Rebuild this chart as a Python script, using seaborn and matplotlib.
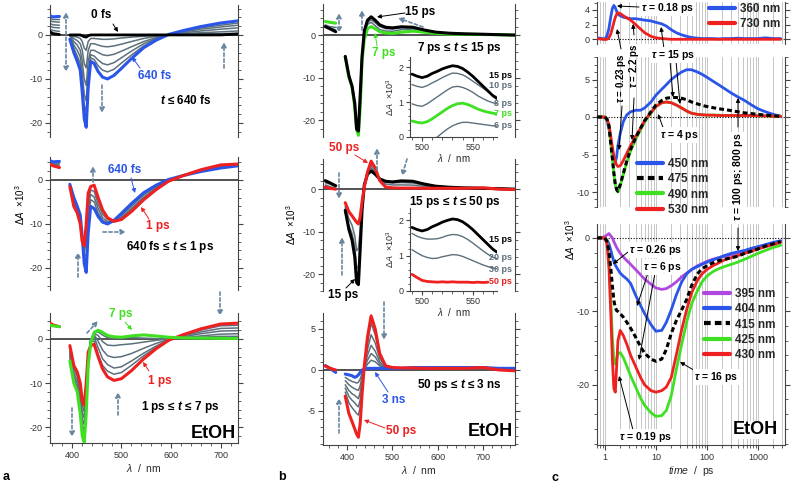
import numpy as np
import pandas as pd
import seaborn as sns
import matplotlib
matplotlib.use("Agg")
import matplotlib.pyplot as plt
from matplotlib.ticker import MultipleLocator, LogLocator, NullFormatter
from matplotlib.patches import FancyArrowPatch
from matplotlib.lines import Line2D

BLUE = "#2a55e8"
RED = "#ee2020"
GREEN = "#3ee021"
GRAY = "#5c6f7c"
PURPLE = "#b048e0"
ARROW = "#6a86a0"
nan = np.nan

# ---- spectra (dA x 10^3), common wavelength grid, gap at the pump line ----
WL = [352, 362, 375, nan, 396, 404, 411, 417, 421, 425, 429, 433, 438, 445, 453,
      462, 472, 485, 500, 520, 545, 570, 595, 625, 660, 700, 735, 770]

# panel a, top: t <= 640 fs
A_0FS = [1.0, 0.3, 0.1, nan, 0, 0, 0, 0, -0.2, -0.4, -0.5, -0.2, 0, 0, 0,
         0, 0, 0, 0, 0, 0, 0, 0, 0, 0, 0, 0.2, 0.1]
A_EARLY_GRAY = [
    [1.5, 1.0, 0.8, nan, 0, -0.3, -0.5, -0.8, -1.5, -3.0, -3.5, -1.5, -0.8, -0.8, -0.9,
     -1.0, -1.0, -0.9, -0.7, -0.5, -0.3, -0.1, 0, 0.1, 0.2, 0.3, 0.4, 0.4],
    [2.2, 1.7, 1.6, nan, 0, -0.8, -1.3, -2.0, -3.5, -6.5, -7.5, -3.5, -2.0, -2.0, -2.3,
     -2.6, -2.7, -2.5, -2.1, -1.5, -0.8, -0.3, 0, 0.3, 0.5, 0.7, 0.9, 0.9],
    [2.8, 2.3, 2.2, nan, 0, -1.5, -2.3, -3.5, -6.0, -10.0, -11.5, -6.0, -3.5, -3.5, -4.0,
     -4.5, -4.7, -4.4, -3.7, -2.7, -1.5, -0.6, 0, 0.5, 0.9, 1.3, 1.6, 1.6],
    [3.4, 3.0, 2.9, nan, 0, -2.3, -3.5, -5.0, -8.5, -13.5, -15.0, -8.5, -4.5, -4.8, -5.7,
     -6.5, -6.8, -6.3, -5.2, -3.7, -2.0, -0.8, 0, 0.7, 1.3, 1.8, 2.2, 2.2],
    [3.9, 3.5, 3.5, nan, 0, -3.0, -4.8, -6.5, -10.5, -16.0, -17.5, -10.0, -5.2, -5.6, -7.0,
     -8.0, -8.4, -7.8, -6.4, -4.6, -2.5, -1.0, 0, 0.8, 1.6, 2.2, 2.7, 2.7],
]
A_640FS = [4.5, 4.1, 4.2, nan, -1.0, -4.0, -6.0, -8.0, -13.0, -19.0, -21.0, -12.0, -6.0, -6.5, -8.3,
           -9.6, -10.0, -9.2, -7.6, -5.4, -2.9, -1.2, 0.1, 1.0, 1.9, 2.7, 3.2, 3.2]

# panel a, middle: 640 fs .. 1 ps
A_MID_GRAY = [
    [4.2, 3.8, 3.8, nan, -1.2, -4.7, -6.5, -8.5, -13.0, -17.5, -17.0, -9.0, -4.5, -5.0, -7.5,
     -9.2, -9.8, -9.4, -8.0, -6.0, -3.4, -1.5, 0.0, 1.0, 2.0, 2.9, 3.3, 3.2],
    [4.0, 3.5, 3.4, nan, -1.3, -5.2, -7.0, -9.0, -13.5, -16.5, -14.0, -6.5, -3.3, -3.9, -6.5,
     -8.6, -9.5, -9.5, -8.4, -6.5, -3.9, -1.8, -0.1, 1.0, 2.1, 3.1, 3.4, 3.2],
    [3.9, 3.3, 3.1, nan, -1.4, -5.6, -7.3, -9.5, -13.8, -15.8, -12.0, -4.8, -2.3, -2.6, -5.5,
     -7.8, -9.0, -9.5, -8.7, -6.9, -4.2, -2.0, -0.2, 1.0, 2.2, 3.2, 3.5, 3.2],
]
A_1PS = [3.8, 3.2, 2.8, nan, -1.5, -6.0, -7.5, -10.0, -14.0, -15.0, -10.0, -3.0, -1.5, -1.2, -4.0,
         -6.8, -8.6, -9.4, -9.0, -7.2, -4.5, -2.2, -0.3, 1.0, 2.3, 3.4, 3.6, 3.3]

# panel a, bottom: 1 ps .. 7 ps
A_LATE_GRAY = [
    [3.7, 3.1, 2.8, nan, -2.2, -7.0, -8.5, -11.0, -15.0, -16.5, -12.0, -4.5, -0.5, -0.5, -3.5,
     -6.0, -7.3, -8.0, -7.6, -6.0, -3.8, -1.9, -0.3, 0.9, 2.0, 3.0, 3.1, 2.8],
    [3.6, 3.0, 2.8, nan, -2.8, -7.8, -9.3, -12.3, -16.5, -18.0, -13.5, -5.0, 0.0, 0.5, -2.0,
     -4.5, -5.8, -6.6, -6.3, -5.0, -3.2, -1.6, -0.2, 0.7, 1.6, 2.4, 2.5, 2.2],
    [3.5, 3.0, 2.8, nan, -3.3, -8.5, -10.1, -13.5, -18.0, -19.5, -14.5, -5.5, 0.0, 1.0, -0.5,
     -2.5, -3.8, -4.2, -4.0, -3.3, -2.1, -1.0, -0.1, 0.5, 1.2, 1.8, 1.9, 1.6],
    [3.4, 2.9, 2.8, nan, -3.8, -9.2, -10.9, -14.8, -19.5, -21.0, -15.5, -5.8, -0.3, 1.3, 0.8,
     -0.6, -1.4, -1.5, -1.3, -1.1, -0.7, -0.3, 0.0, 0.3, 0.7, 1.1, 1.2, 1.0],
    [3.3, 3.0, 2.8, nan, -4.3, -9.6, -11.5, -15.8, -20.7, -22.3, -16.3, -6.0, -0.6, 1.5, 1.6,
     0.9, 0.3, 0.1, 0.2, 0.3, 0.2, 0.1, 0.0, 0.2, 0.4, 0.6, 0.6, 0.5],
]
A_7PS = [3.2, 3.0, 2.8, nan, -5.0, -10.0, -12.0, -17.0, -22.0, -23.5, -17.0, -6.0, -1.0, 1.5, 2.0,
         1.5, 0.8, 0.5, 0.4, 0.7, 0.93, 0.68, 0.4, 0.25, 0.2, 0.15, 0.1, 0.05]

# panel b, top: 7 ps .. 15 ps
B_TOP_GRAY = [
    [2.4, 2.0, 1.8, nan, -5.0, -9.9, -12.0, -16.5, -22.6, -23.2, -16.0, -6.0, 0.0, 2.5, 3.0,
     2.2, 1.3, 0.95, 0.9, 1.3, 1.4, 1.0, 0.6, 0.35, 0.25, 0.2, 0.1, 0.0],
    [2.2, 1.8, 1.2, nan, -5.0, -9.7, -12.0, -16.0, -22.3, -22.8, -15.0, -5.8, 0.3, 2.9, 3.6,
     2.9, 2.0, 1.5, 1.43, 1.75, 1.7, 1.2, 0.7, 0.4, 0.3, 0.2, 0.1, 0.0],
]
B_15PS = [2.0, 1.5, 0.8, nan, -5.0, -9.5, -12.0, -16.0, -22.0, -22.5, -14.0, -5.0, 1.0, 3.5, 4.3,
          3.5, 2.4, 1.85, 1.7, 1.95, 1.85, 1.2, 0.7, 0.45, 0.3, 0.2, 0.1, 0.0]

# panel b, middle: 15 ps .. 50 ps
B_MID_GRAY = [
    [1.5, 1.2, 0.5, nan, -4.5, -8.5, -10.5, -13.5, -18.5, -18.5, -12.0, -4.2, 1.2, 4.0, 5.0,
     3.8, 2.2, 1.65, 1.48, 1.55, 1.45, 0.95, 0.6, 0.4, 0.3, 0.3, 0.2, 0.0],
    [1.0, 0.6, 0.2, nan, -4.0, -7.0, -8.5, -11.0, -14.5, -14.0, -9.5, -3.6, 1.0, 4.2, 5.6,
     4.2, 1.9, 1.2, 0.98, 1.0, 0.95, 0.65, 0.45, 0.35, 0.3, 0.3, 0.2, 0.0],
]
B_50PS = [0.5, 0.2, 0.0, nan, -3.2, -5.3, -6.3, -7.2, -7.8, -8.2, -6.5, -3.0, 0.5, 4.0, 6.6,
          5.0, 2.0, 0.5, 0.3, 0.25, 0.25, 0.2, 0.2, 0.2, 0.2, 0.3, 0.0, -0.1]

# panel b, bottom: 50 ps .. 3 ns
B_LATE_GRAY = [
    [0.6, 0.3, 0.0, nan, -2.7, -4.0, -4.6, -5.0, -5.3, -5.5, -4.5, -2.3, 0.4, 3.3, 5.7,
     4.3, 1.8, 0.5, 0.3, 0.25, 0.25, 0.2, 0.2, 0.2, 0.2, 0.3, 0.0, -0.1],
    [0.6, 0.3, 0.0, nan, -2.2, -3.2, -3.7, -4.0, -4.3, -4.5, -3.6, -1.8, 0.3, 2.5, 4.3,
     3.3, 1.4, 0.4, 0.3, 0.25, 0.25, 0.2, 0.2, 0.2, 0.2, 0.3, 0.1, 0.0],
    [0.5, 0.3, -0.1, nan, -1.8, -2.5, -2.9, -3.1, -3.3, -3.5, -2.7, -1.3, 0.2, 1.8, 3.0,
     2.3, 1.0, 0.3, 0.3, 0.25, 0.25, 0.25, 0.2, 0.2, 0.2, 0.3, 0.1, 0.1],
    [0.5, 0.2, -0.1, nan, -1.3, -1.8, -2.1, -2.3, -2.4, -2.5, -1.9, -0.8, 0.2, 1.2, 2.0,
     1.6, 0.7, 0.3, 0.3, 0.25, 0.25, 0.25, 0.25, 0.25, 0.25, 0.3, 0.2, 0.1],
    [0.5, 0.2, -0.2, nan, -0.9, -1.2, -1.4, -1.5, -1.6, -1.5, -1.1, -0.4, 0.1, 0.7, 1.2,
     1.0, 0.5, 0.3, 0.25, 0.25, 0.25, 0.3, 0.3, 0.3, 0.3, 0.3, 0.2, 0.2],
]
B_3NS = [0.5, 0.2, -0.3, nan, -0.5, -0.6, -0.7, -0.9, -0.8, -0.6, -0.3, 0.0, 0.1, 0.2, 0.2,
         0.2, 0.2, 0.2, 0.2, 0.2, 0.3, 0.3, 0.3, 0.3, 0.3, 0.3, 0.2, 0.2]

# insets (zoom of the 490-575 nm band)
IN_WL = [490, 495, 500, 505, 510, 515, 520, 525, 530, 535, 540, 545, 550, 555, 560, 565, 570, 574]
IN_15PS = [1.80, 1.74, 1.70, 1.74, 1.82, 1.88, 1.95, 2.00, 2.04, 2.02, 1.96, 1.86, 1.74, 1.60, 1.46, 1.32, 1.18, 1.10]
IN_10PS = [1.50, 1.45, 1.42, 1.47, 1.55, 1.62, 1.70, 1.77, 1.83, 1.82, 1.78, 1.70, 1.60, 1.50, 1.40, 1.30, 1.20, 1.15]
IN_8PS = [0.95, 0.90, 0.88, 0.95, 1.05, 1.15, 1.25, 1.35, 1.43, 1.45, 1.42, 1.36, 1.28, 1.18, 1.10, 1.03, 0.98, 0.95]
IN_7PS = [0.46, 0.42, 0.40, 0.44, 0.52, 0.62, 0.72, 0.82, 0.90, 0.95, 0.97, 0.93, 0.87, 0.80, 0.75, 0.71, 0.68, 0.66]
IN_6PS = [-0.6, -0.5, -0.4, -0.25, -0.1, 0.0, 0.12, 0.23, 0.32, 0.38, 0.42, 0.42, 0.40, 0.38, 0.36, 0.34, 0.32, 0.31]
IN_20PS = [1.63, 1.55, 1.50, 1.47, 1.47, 1.48, 1.52, 1.57, 1.60, 1.59, 1.54, 1.46, 1.36, 1.25, 1.14, 1.04, 0.95, 0.92]
IN_30PS = [1.17, 1.08, 1.00, 0.95, 0.92, 0.93, 0.97, 1.00, 1.03, 1.02, 0.98, 0.92, 0.86, 0.80, 0.74, 0.69, 0.65, 0.63]
IN_50PS = [0.47, 0.38, 0.30, 0.27, 0.26, 0.25, 0.26, 0.25, 0.26, 0.25, 0.25, 0.25, 0.24, 0.25, 0.24, 0.25, nan, nan]

# ---- kinetics (panel c), time in ps ----
T = [0.7, 0.9, 1.0, 1.1, 1.2, 1.3, 1.4, 1.5, 1.6, 1.7, 1.8, 2.0, 2.3, 2.7, 3.2, 4, 5, 6, 8, 10,
     13, 16, 20, 25, 32, 40, 50, 65, 80, 100, 130, 170, 220, 300, 400, 550, 750, 1000, 1400, 2000, 2800]
K360 = [0.2, 0.1, 0.0, 0.5, 1.5, 3.0, 4.2, 4.6, 4.3, 3.8, 3.4, 3.2, 3.0, 2.9, 2.8, 2.8, 2.7, 2.6, 2.5, 2.3,
        2.1, 1.8, 1.3, 0.9, 0.6, 0.4, 0.25, 0.15, 0.1, 0.1, 0.1, 0.05, 0.1, 0.1, 0.15, 0.1, 0.1, 0.1, 0.2, 0.1, 0.1]
K730 = [0.1, 0.0, 0.0, 0.0, 0.2, 0.7, 1.5, 2.3, 3.0, 3.4, 3.6, 3.5, 3.2, 2.9, 2.6, 2.0, 1.4, 0.9, 0.4, 0.2,
        0.1, 0.05, 0.0, 0.0, 0.0, 0.0, 0.0, 0.0, 0.0, 0.0, 0.0, 0.0, 0.0, 0.0, 0.0, 0.0, 0.0, 0.0, 0.0, 0.0, 0.0]
K450 = [0, 0, 0, -0.5, -1.5, -3.0, -4.5, -5.5, -6.0, -5.3, -3.8, -2.2, -0.6, 0.3, 0.7, 0.9, 0.9, 1.2, 2.0, 2.9,
        3.7, 4.3, 5.0, 5.5, 6.0, 6.3, 6.3, 6.0, 5.7, 5.3, 4.8, 4.3, 3.8, 3.2, 2.7, 2.2, 1.6, 1.1, 0.7, 0.35, 0.1]
K475 = [0, 0, 0, -0.3, -1.2, -3.5, -5.5, -7.5, -9.0, -9.7, -9.9, -9.0, -7.5, -5.8, -4.3, -2.8, -1.5, -0.5, 0.7, 1.6,
        2.2, 2.5, 2.6, 2.6, 2.5, 2.3, 2.0, 1.75, 1.55, 1.4, 1.25, 1.1, 1.0, 0.85, 0.7, 0.55, 0.45, 0.35, 0.25, 0.15, 0.1]
K490 = [0, 0, 0, -0.3, -1.2, -3.5, -5.5, -7.5, -9.0, -9.7, -10.0, -9.2, -7.7, -6.0, -4.5, -3.0, -1.7, -0.7, 0.5, 1.4,
        1.9, 2.0, 1.9, 1.6, 1.2, 0.8, 0.5, 0.35, 0.3, 0.25, 0.25, 0.25, 0.2, 0.2, 0.2, 0.2, 0.2, 0.15, 0.15, 0.1, 0.1]
K530 = [0, 0, 0, -0.3, -1.0, -2.5, -4.0, -5.2, -6.0, -6.4, -6.6, -6.5, -5.8, -4.8, -3.8, -2.6, -1.5, -0.5, 0.6, 1.4,
        1.9, 2.0, 1.9, 1.6, 1.2, 0.8, 0.5, 0.35, 0.3, 0.25, 0.25, 0.2, 0.2, 0.2, 0.2, 0.2, 0.2, 0.15, 0.15, 0.1, 0.1]
K395 = [0, 0.1, 0.2, 0.4, 0.6, 0.3, 0.0, -0.5, -0.9, -1.3, -1.6, -2.1, -2.6, -3.1, -3.6, -4.3, -5.0, -5.6, -6.3, -6.8,
        -7.0, -6.9, -6.5, -6.0, -5.3, -4.8, -4.3, -3.8, -3.5, -3.2, -2.9, -2.7, -2.5, -2.3, -2.0, -1.8, -1.5, -1.2, -1.0, -0.7, -0.4]
K404 = [0, 0, 0, -0.3, -0.8, -1.6, -2.5, -3.2, -3.7, -4.0, -4.3, -4.8, -5.2, -5.6, -6.2, -7.8, -9.2, -10.3, -11.8, -12.7,
        -12.6, -11.5, -9.8, -7.8, -6.0, -4.9, -4.3, -3.9, -3.6, -3.3, -3.0, -2.7, -2.4, -2.1, -1.9, -1.7, -1.4, -1.2, -0.9, -0.6, -0.4]
K415 = [0, 0, 0, -0.5, -1.8, -4.0, -6.5, -8.5, -9.5, -9.9, -10.0, -10.3, -10.8, -11.5, -12.3, -13.5, -14.8, -15.7, -16.5, -16.8,
        -16.5, -15.2, -13.0, -11.3, -9.8, -8.4, -6.5, -4.9, -4.2, -3.8, -3.4, -3.1, -2.9, -2.7, -2.5, -2.1, -1.8, -1.5, -1.1, -0.8, -0.5]
K425 = [0, 0, 0, -0.5, -3.0, -8.0, -13.5, -16.5, -17.2, -16.5, -15.8, -15.6, -16.3, -17.5, -18.8, -20.3, -21.8, -22.8, -23.8, -24.3,
        -24.2, -23.5, -21.5, -18.0, -14.5, -11.5, -9.0, -7.2, -6.0, -5.2, -4.6, -4.2, -3.9, -3.6, -3.3, -2.9, -2.5, -2.1, -1.7, -1.3, -1.0]
K430 = [0, 0, 0, -0.8, -4.0, -10.0, -16.5, -20.5, -21.0, -17.5, -14.0, -12.6, -13.3, -14.5, -16.0, -17.5, -19.0, -20.0, -20.8, -21.0,
        -20.8, -20.3, -19.0, -16.0, -12.5, -9.8, -7.5, -5.8, -4.9, -4.3, -3.8, -3.4, -3.0, -2.7, -2.4, -2.1, -1.8, -1.5, -1.2, -0.9, -0.6]

C_TOP = ["360 nm", "730 nm"]
C_MID = ["450 nm", "475 nm", "490 nm", "530 nm"]
C_BOT = ["395 nm", "404 nm", "415 nm", "425 nm", "430 nm"]

# ---- style ----
sns.set_theme(style="ticks")
plt.rcParams.update({
    "font.family": ["Liberation Sans", "DejaVu Sans"],
    "mathtext.fontset": "custom",
    "mathtext.rm": "Liberation Sans",
    "mathtext.it": "Liberation Sans:italic",
    "mathtext.bf": "Liberation Sans:italic:bold",
    "axes.unicode_minus": False,
    "axes.edgecolor": "#444444",
    "axes.linewidth": 0.8,
    "xtick.color": "#444444",
    "ytick.color": "#444444",
    "xtick.labelcolor": "#333333",
    "ytick.labelcolor": "#333333",
})

W, H = 792, 483
fig = plt.figure(figsize=(W / 100, H / 100), dpi=100)


def fp(x, y):
    return (x / W, 1 - y / H)


def add_ax(x0, y0, x1, y1):
    return fig.add_axes([x0 / W, 1 - y1 / H, (x1 - x0) / W, (y1 - y0) / H])


def draw(ax, x, y, color, lw=2.2, ls="-", z=3):
    df = pd.DataFrame({"x": x, "y": y})
    df["seg"] = df["x"].isna().cumsum()
    df = df.dropna()
    sns.lineplot(data=df, x="x", y="y", units="seg", estimator=None, sort=False,
                 color=color, lw=lw, ls=ls, ax=ax, legend=False, zorder=z)
    ax.set_xlabel("")
    ax.set_ylabel("")


def frame(ax, xlim, ylim, major, minor, bottom=False, xmajor=100, xminor=20):
    ax.set_xlim(xlim)
    ax.set_ylim(ylim)
    ax.set_facecolor("none")
    ax.spines["top"].set_visible(False)
    ax.spines["right"].set_visible(True)
    ax.spines["bottom"].set_visible(bottom)
    ax.yaxis.set_major_locator(MultipleLocator(major))
    ax.yaxis.set_minor_locator(MultipleLocator(minor))
    ax.tick_params(axis="y", which="both", left=True, right=True, direction="out",
                   labelsize=6.5, pad=1.5)
    ax.tick_params(which="major", length=3.5, width=0.8)
    ax.tick_params(which="minor", length=2, width=0.6)
    if bottom:
        if ax.get_xscale() != "log":
            ax.xaxis.set_major_locator(MultipleLocator(xmajor))
            ax.xaxis.set_minor_locator(MultipleLocator(xminor))
        ax.tick_params(axis="x", which="both", bottom=True, labelbottom=True,
                       direction="out", labelsize=6.5, pad=2)
    else:
        ax.tick_params(axis="x", which="both", bottom=False, labelbottom=False)


def zero_line(ax):
    ax.axhline(0, color="#333333", lw=1.2, zorder=1)


def label(x, y, s, color="black", size=8.5, weight="bold", ha="center", **kw):
    fig.text(*fp(x, y), s, color=color, fontsize=size, fontweight=weight,
             ha=ha, va="center", **kw)


def arrow(x0, y0, x1, y1, color="black", lw=0.7, style="-|>", ls="-", ms=6):
    fig.add_artist(FancyArrowPatch(fp(x0, y0), fp(x1, y1), transform=fig.transFigure,
                                   arrowstyle=style, color=color, lw=lw, linestyle=ls,
                                   mutation_scale=ms, shrinkA=0, shrinkB=0))


def dash_arrow(x0, y0, x1, y1, style="-|>"):
    arrow(x0, y0, x1, y1, color=ARROW, lw=1.2, style=style, ls=(0, (2, 1.5)), ms=7)


DA_LABEL = r"$\Delta A$  $\times$10$^{3}$"

# ================= panel a =================
a1 = add_ax(50, 5, 238, 137)
zero_line(a1)
for g in A_EARLY_GRAY:
    draw(a1, WL, g, GRAY, lw=1.1, z=2)
draw(a1, WL, A_640FS, BLUE)
draw(a1, WL, A_0FS, "black", lw=2.0)
frame(a1, (356, 735), (-23.2, 6.8), 10, 2)

a2 = add_ax(50, 157, 238, 290)
zero_line(a2)
for g in A_MID_GRAY:
    draw(a2, WL, g, GRAY, lw=1.1, z=2)
draw(a2, WL, A_640FS, BLUE)
draw(a2, WL, A_1PS, RED)
frame(a2, (356, 735), (-25, 5.2), 10, 2)

a3 = add_ax(50, 313, 238, 443)
zero_line(a3)
for g in A_LATE_GRAY:
    draw(a3, WL, g, GRAY, lw=1.1, z=2)
draw(a3, WL, A_1PS, RED)
draw(a3, WL, A_7PS, GREEN)
frame(a3, (356, 735), (-23.6, 5.9), 10, 2, bottom=True)
a3.set_xlabel(r"$\lambda$  /  nm", fontsize=7.5, labelpad=2)

label(101, 15, "0 fs")
arrow(113, 24, 118, 32)
label(155, 76, "640 fs", color=BLUE)
arrow(140, 68, 132, 57, color=BLUE)
label(186, 100, r"$\mathbf{t}$ ≤ 640 fs")
dash_arrow(66, 12, 66, 72, style="<|-|>")
dash_arrow(102, 85, 102, 113)
dash_arrow(224, 68, 224, 42)

label(125, 170, "640 fs", color=BLUE)
arrow(131, 178, 135, 193, color=BLUE)
label(158, 226, "1 ps", color=RED)
arrow(149, 219, 141, 207, color=RED)
label(170, 247, r"640 fs ≤ $\mathbf{t}$ ≤ 1 ps")
dash_arrow(93, 182, 93, 166)
dash_arrow(103, 232, 126, 232)
dash_arrow(78, 277, 78, 252)

label(121, 314, "7 ps", color=GREEN)
arrow(125, 322, 132, 330, color=GREEN)
label(160, 381, "1 ps", color=RED)
arrow(149, 371, 143, 362, color=RED)
label(180, 407, r"1 ps ≤ $\mathbf{t}$ ≤ 7 ps")
label(213, 434, "EtOH", size=13)
dash_arrow(87, 333, 98, 321)
dash_arrow(72, 408, 72, 437)
dash_arrow(118, 415, 118, 392)
dash_arrow(220, 292, 220, 316)
label(20, 205, DA_LABEL, size=7, weight="normal", rotation=90)
label(3, 477, "a", size=9, ha="left")

# ================= panel b =================
b1 = add_ax(323, 4, 515, 137)
zero_line(b1)
for g in B_TOP_GRAY:
    draw(b1, WL, g, GRAY, lw=1.1, z=2)
draw(b1, WL, A_7PS, GREEN)
draw(b1, WL, B_15PS, "black")
frame(b1, (347, 770), (-23.9, 7.3), 10, 2)

b2 = add_ax(323, 159, 515, 291)
zero_line(b2)
for g in B_MID_GRAY:
    draw(b2, WL, g, GRAY, lw=1.1, z=2)
draw(b2, WL, B_15PS, "black")
draw(b2, WL, B_50PS, RED)
frame(b2, (347, 770), (-24, 7.1), 10, 2)

b3 = add_ax(323, 313, 515, 445)
zero_line(b3)
for g in B_LATE_GRAY:
    draw(b3, WL, g, GRAY, lw=1.1, z=2)
draw(b3, WL, B_3NS, BLUE)
draw(b3, WL, B_50PS, RED)
frame(b3, (347, 770), (-9.15, 6.95), 5, 1, bottom=True)
b3.set_xlabel(r"$\lambda$  /  nm", fontsize=7.5, labelpad=2)

for (y0, y1, top), curves in [
    ((57, 137, 2.29), [(IN_6PS, GRAY, 1.0), (IN_8PS, GRAY, 1.0), (IN_10PS, GRAY, 1.0),
                       (IN_7PS, GREEN, 2.0), (IN_15PS, "black", 2.0)]),
    ((208, 291, 2.35), [(IN_30PS, GRAY, 1.0), (IN_20PS, GRAY, 1.0),
                        (IN_50PS, RED, 2.0), (IN_15PS, "black", 2.0)]),
]:
    ins = add_ax(410, y0, 497, y1)
    for vals, col, lw in curves:
        draw(ins, IN_WL, vals, col, lw=lw)
    ins.set_xlim(488, 574)
    ins.set_ylim(0, top)
    ins.set_facecolor("none")
    ins.spines["top"].set_visible(False)
    ins.spines["right"].set_visible(False)
    ins.xaxis.set_major_locator(MultipleLocator(50))
    ins.xaxis.set_minor_locator(MultipleLocator(10))
    ins.yaxis.set_major_locator(MultipleLocator(1))
    ins.yaxis.set_minor_locator(MultipleLocator(0.2))
    ins.tick_params(which="both", direction="out", labelsize=6.5, pad=1.5)
    ins.tick_params(which="major", length=3, width=0.8)
    ins.tick_params(which="minor", length=1.8, width=0.6)
    ins.set_xlabel(r"$\lambda$  /  nm", fontsize=7, labelpad=0)
    ins.set_ylabel(DA_LABEL, fontsize=6.5, labelpad=2)

label(420, 12, "15 ps")
arrow(405, 13, 377, 17)
label(384, 53, "7 ps", color=GREEN)
arrow(377, 46, 375, 33, color=GREEN)
label(459, 48, r"7 ps ≤ $\mathbf{t}$ ≤ 15 ps")
dash_arrow(339, 13, 339, 33, style="<|-|>")
dash_arrow(362, 30, 362, 10)
dash_arrow(423, 27, 398, 18)
for y, s, c in [(75, "15 ps", "black"), (86, "10 ps", GRAY), (103, "8 ps", GRAY),
                (113, "7 ps", GREEN), (126, "6 ps", GRAY)]:
    label(512, y, s, color=c, size=6.5, ha="right")

label(344, 148, "50 ps", color=RED)
arrow(355, 155, 368, 163, color=RED)
label(343, 295, "15 ps")
arrow(346, 288, 355, 279)
label(455, 202, r"15 ps ≤ $\mathbf{t}$ ≤ 50 ps")
dash_arrow(339, 173, 339, 199)
dash_arrow(342, 275, 342, 237)
dash_arrow(377, 170, 377, 148)
dash_arrow(407, 159, 402, 176)
for y, s, c in [(239, "15 ps", "black"), (258, "20 ps", GRAY), (269, "30 ps", GRAY),
                (282, "50 ps", RED)]:
    label(512, y, s, color=c, size=6.5, ha="right")

label(459, 385, r"50 ps ≤ $\mathbf{t}$ ≤ 3 ns")
label(394, 400, "3 ns", color=BLUE)
arrow(388, 392, 375, 372, color=BLUE)
label(401, 431, "50 ps", color=RED)
arrow(385, 428, 364, 420, color=RED)
label(490, 432, "EtOH", size=13)
dash_arrow(384, 302, 384, 340)
dash_arrow(339, 433, 339, 398)
label(291, 225, DA_LABEL, size=7, weight="normal", rotation=90)
label(278, 477, "b", size=9, ha="left")

# ================= panel c =================
DASH = (0, (1.6, 1.0))


def c_axes(y0, y1):
    ax = add_ax(597, y0, 785, y1)
    ax.set_xscale("log")
    ax.xaxis.set_major_locator(LogLocator(base=10))
    ax.xaxis.set_minor_locator(LogLocator(base=10, subs=np.arange(2, 10)))
    ax.xaxis.set_minor_formatter(NullFormatter())
    ax.grid(True, which="both", axis="x", color="#bdbdbd", lw=0.6, zorder=0)
    ax.axhline(0, color="black", lw=0.8, ls=(0, (1, 1.5)), zorder=1)
    return ax


c1 = c_axes(2, 44)
draw(c1, T, K360, BLUE, lw=2.0)
draw(c1, T, K730, RED, lw=2.0)
frame(c1, (0.7, 3400), (-0.64, 5.07), 2, 1)

c2 = c_axes(57, 207)
draw(c2, T, K450, BLUE, lw=2.0)
draw(c2, T, K490, GREEN, lw=2.0)
draw(c2, T, K530, RED, lw=2.0)
draw(c2, T, K475, "black", lw=2.2, ls=DASH)
frame(c2, (0.7, 3400), (-12, 8), 5, 1)

c3 = c_axes(224, 445)
draw(c3, T, K395, PURPLE, lw=2.0)
draw(c3, T, K404, BLUE, lw=2.0)
draw(c3, T, K425, GREEN, lw=2.0)
draw(c3, T, K430, RED, lw=2.0)
draw(c3, T, K415, "black", lw=2.2, ls=DASH)
frame(c3, (0.7, 3400), (-28.2, 1.9), 10, 2, bottom=True)
c3.set_xticks([1, 10, 100, 1000], ["1", "10", "100", "1000"])
c3.set_xlabel(r"$time$  /  ps", fontsize=7.5, labelpad=2)


def c_legend(ax, labels, styles, x, y):
    handles = [Line2D([], [], color=c, lw=3, ls=ls) for c, ls in styles]
    ax.legend(handles, labels, loc="upper left", bbox_to_anchor=fp(x, y),
              bbox_transform=fig.transFigure, frameon=False,
              prop=dict(weight="bold", size=8.5), handlelength=2.2, handletextpad=0.4,
              labelspacing=0.28, borderpad=0, borderaxespad=0)


c_legend(c1, C_TOP, [(BLUE, "-"), (RED, "-")], 709, 3)
c_legend(c2, C_MID, [(BLUE, "-"), ("black", DASH), (GREEN, "-"), (RED, "-")], 637, 158)
c_legend(c3, C_BOT, [(PURPLE, "-"), (BLUE, "-"), ("black", DASH), (GREEN, "-"), (RED, "-")], 704, 288)

WBOX = dict(facecolor="white", edgecolor="none", pad=0.6)
label(667, 8, r"$\mathbf{\tau}$ = 0.18 ps", size=7.5, bbox=WBOX)
arrow(639, 7, 617, 6)
label(621, 78, r"$\mathbf{\tau}$ = 0.23 ps", size=7, rotation=90)
label(634, 66, r"$\mathbf{\tau}$ = 2.2 ps", size=7, rotation=90)
arrow(621, 49, 617, 29)
arrow(634, 35, 633, 24)
arrow(622, 106, 619, 150)
arrow(634, 98, 632, 140)
label(673, 55, r"$\mathbf{\tau}$ = 15 ps", size=7.5, bbox=WBOX)
arrow(664, 49, 661, 27)
arrow(670, 61, 673, 97)
arrow(676, 61, 680, 104)
label(679, 135, r"$\mathbf{\tau}$ = 4 ps", size=7.5, bbox=WBOX)
arrow(664, 130, 658, 114)
label(738, 177, r"$\mathbf{\tau}$ = 100 ps; 800 ps", size=7.5, rotation=90, bbox=WBOX)
arrow(738, 127, 738, 98)
arrow(738, 228, 738, 251)
label(655, 250, r"$\mathbf{\tau}$ = 0.26 ps", size=7.5, bbox=WBOX)
arrow(628, 252, 613, 264)
label(662, 267, r"$\mathbf{\tau}$ = 6 ps", size=7.5, bbox=WBOX)
arrow(648, 273, 637, 306)
arrow(655, 273, 639, 360)
label(716, 377, r"$\mathbf{\tau}$ = 16 ps", size=7.5, bbox=WBOX)
arrow(697, 372, 680, 362)
label(645, 437, r"$\mathbf{\tau}$ = 0.19 ps", size=7.5, bbox=WBOX)
arrow(633, 430, 619, 376)
label(755, 430, "EtOH", size=13, bbox=WBOX)
label(570, 240, DA_LABEL, size=7, weight="normal", rotation=90)
label(552, 478, "c", size=9, ha="left")

fig.savefig("out.png", dpi=100, facecolor="white")
